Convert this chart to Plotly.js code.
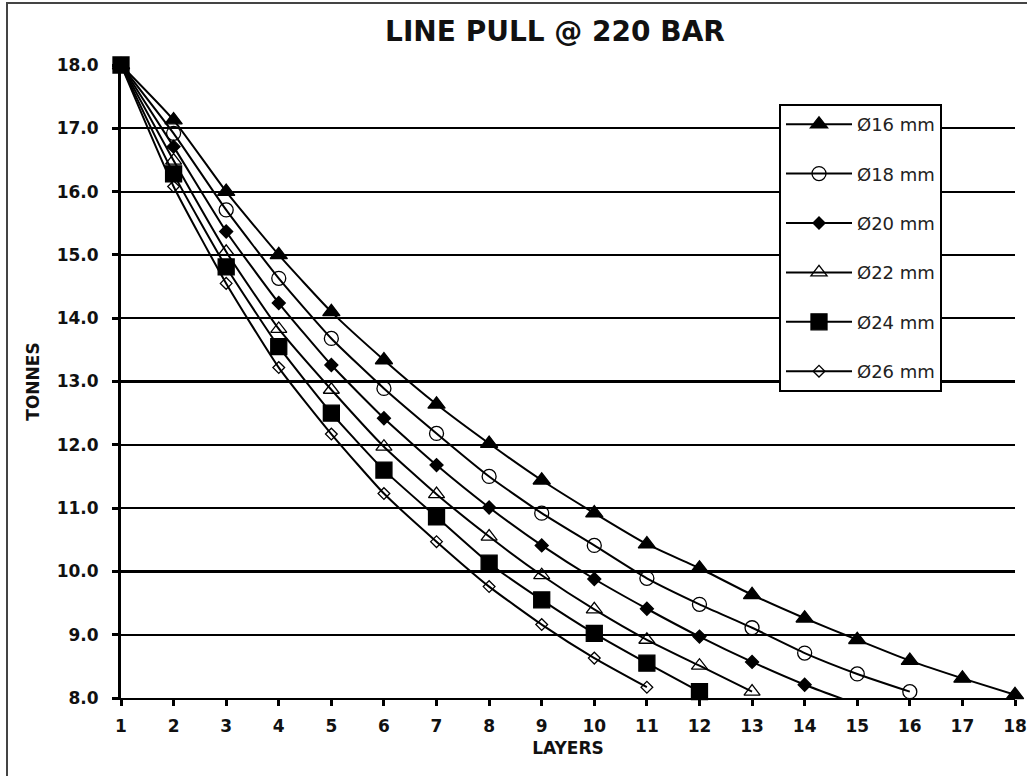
<!DOCTYPE html>
<html>
<head>
<meta charset="utf-8">
<script src="https://cdn.plot.ly/plotly-3.0.1.min.js"></script>
<style>
  html, body { margin: 0; padding: 0; background: #fff; }
  #chart { width: 1027px; height: 776px; }
</style>
</head>
<body>
<div id="chart"></div>
<script>
// Layers (x axis)
const layers = [1, 2, 3, 4, 5, 6, 7, 8, 9, 10, 11, 12, 13, 14, 15, 16, 17, 18];

// Line pull in tonnes, per rope diameter
const pull16 = [18.0, 17.13, 16.0, 15.0, 14.10, 13.34, 12.64, 12.02, 11.44, 10.92, 10.43, 10.05, 9.63, 9.26, 8.92, 8.59, 8.31, 8.05];
const pull18 = [18.0, 16.92, 15.71, 14.63, 13.68, 12.89, 12.18, 11.50, 10.92, 10.41, 9.89, 9.48, 9.11, 8.71, 8.38, 8.10];
const pull20 = [18.0, 16.71, 15.37, 14.24, 13.26, 12.42, 11.68, 11.01, 10.41, 9.88, 9.41, 8.97, 8.57, 8.21, 7.90];
const pull22 = [18.0, 16.49, 15.05, 13.83, 12.87, 11.97, 11.22, 10.55, 9.94, 9.40, 8.92, 8.51, 8.10];
const pull24 = [18.0, 16.28, 14.81, 13.55, 12.50, 11.60, 10.86, 10.13, 9.55, 9.02, 8.55, 8.10];
const pull26 = [18.0, 16.08, 14.55, 13.22, 12.17, 11.23, 10.47, 9.76, 9.16, 8.63, 8.17];

const seriesNames = ["Ø16 mm", "Ø18 mm", "Ø20 mm", "Ø22 mm", "Ø24 mm", "Ø26 mm"];
const seriesValues = [pull16, pull18, pull20, pull22, pull24, pull26];

// Tick labels
const yTickVals = [8, 9, 10, 11, 12, 13, 14, 15, 16, 17, 18];
const yTickText = ["8.0", "9.0", "10.0", "11.0", "12.0", "13.0", "14.0", "15.0", "16.0", "17.0", "18.0"];

const symbols = [
  {symbol: "triangle-up", size: 15},
  {symbol: "circle-open", size: 14},
  {symbol: "diamond", size: 10},
  {symbol: "triangle-up-open", size: 14},
  {symbol: "square", size: 16},
  {symbol: "diamond-open", size: 9}
];

const YMIN = 8;
const traces = seriesValues.map((vals, i) => ({
  type: "scatter",
  mode: "lines+markers",
  name: seriesNames[i],
  legendgroup: "g" + i,
  x: layers.slice(0, vals.length),
  y: vals,
  cliponaxis: false,
  line: {color: "#000", width: 2, shape: "spline", smoothing: 0.5},
  marker: {
    symbol: symbols[i].symbol,
    size: vals.map(v => v < YMIN ? 0 : symbols[i].size),
    sizemode: "diameter",
    opacity: 1,
    color: "#000",
    line: {color: "#000", width: 1.3}
  }
}));

const layout = {
  width: 1027,
  height: 776,
  margin: {l: 121, r: 12, t: 65, b: 78},
  paper_bgcolor: "#fff",
  plot_bgcolor: "#fff",
  title: {
    text: "LINE PULL @ 220 BAR",
    font: {family: "DejaVu Sans", size: 28, color: "#111", weight: "bold"},
    x: 555 / 1027, xref: "container", xanchor: "center",
    y: 1 - 31 / 776, yref: "container", yanchor: "middle"
  },
  xaxis: {
    range: [1, 18],
    tickvals: layers,
    ticktext: layers.map(String),
    showgrid: false,
    zeroline: false,
    showline: true,
    linecolor: "#000",
    linewidth: 2,
    ticks: "outside",
    ticklen: 6,
    tickwidth: 3,
    tickcolor: "#000",
    ticklabelstandoff: 6,
    tickfont: {family: "DejaVu Sans", size: 17, color: "#111", weight: "bold"},
    title: {
      text: "LAYERS",
      font: {family: "DejaVu Sans", size: 17, color: "#111", weight: "bold"},
      standoff: 7
    }
  },
  yaxis: {
    range: [8, 18],
    tickvals: yTickVals,
    ticktext: yTickText,
    showgrid: true,
    gridcolor: "#000",
    gridwidth: 2.2,
    zeroline: false,
    showline: true,
    linecolor: "#000",
    linewidth: 3,
    ticks: "outside",
    ticklen: 6,
    tickwidth: 3,
    tickcolor: "#000",
    ticklabelstandoff: 10,
    tickfont: {family: "DejaVu Sans", size: 17, color: "#111", weight: "bold"},
    title: {
      text: "TONNES",
      font: {family: "DejaVu Sans", size: 17, color: "#111", weight: "bold"},
      standoff: 13
    }
  },
  legend: {
    x: (779 - 121) / 894,
    y: (698 - 104) / 633,
    xanchor: "left",
    yanchor: "top",
    bgcolor: "#fff",
    bordercolor: "#000",
    borderwidth: 2,
    itemwidth: 66,
    tracegroupgap: 23,
    font: {family: "DejaVu Sans", size: 18, color: "#222"}
  },
  showlegend: true,
  shapes: [{
    type: "rect",
    xref: "paper", yref: "paper",
    x0: (7 - 121) / 894, x1: 1.1,
    y0: -0.2, y1: (698 - 3) / 633,
    line: {color: "#444", width: 2},
    fillcolor: "rgba(0,0,0,0)",
    layer: "below"
  }]
};

Plotly.newPlot("chart", traces, layout, {displayModeBar: false, staticPlot: true});
</script>
</body>
</html>
